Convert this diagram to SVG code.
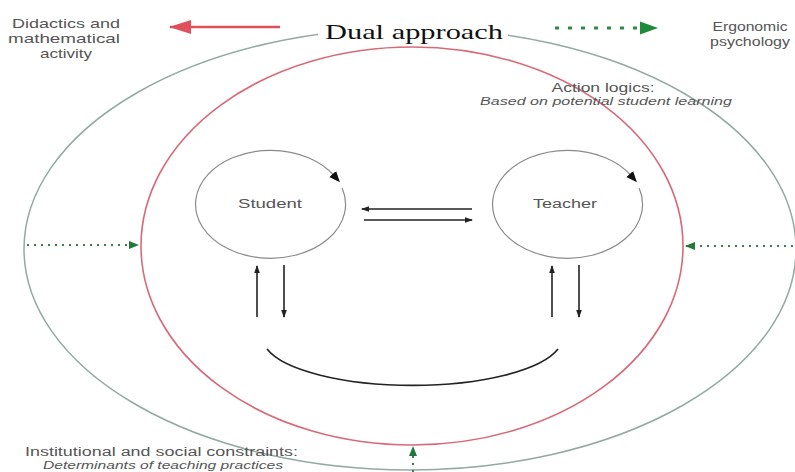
<svg xmlns="http://www.w3.org/2000/svg" width="795" height="472" viewBox="0 0 795 472">
<defs>
<marker id="blk" markerUnits="userSpaceOnUse" markerWidth="8" markerHeight="8" viewBox="0 0 8 8" refX="7" refY="4" orient="auto">
<path d="M0,1.2 L8,4 L0,6.8 Z" fill="#222"/>
</marker>
<marker id="blkc" markerUnits="userSpaceOnUse" markerWidth="12" markerHeight="10" viewBox="0 0 12 10" refX="2" refY="5" orient="auto">
<path d="M0,0.5 L11,5 L0,9.5 Z" fill="#111"/>
</marker>
<marker id="grn" markerUnits="userSpaceOnUse" markerWidth="10" markerHeight="10" viewBox="0 0 10 10" refX="9" refY="5" orient="auto">
<path d="M0,1 L10,5 L0,9 Z" fill="#1f7a3a"/>
</marker>
<marker id="grnL" markerUnits="userSpaceOnUse" markerWidth="18" markerHeight="14" viewBox="0 0 18 14" refX="17" refY="7" orient="auto">
<path d="M0,0.5 L18,7 L0,13.5 Z" fill="#1f8a3a"/>
</marker>
<marker id="red" markerUnits="userSpaceOnUse" markerWidth="22" markerHeight="16" viewBox="0 0 22 16" refX="21" refY="8" orient="auto">
<path d="M0,1 L22,8 L0,15 Z" fill="#e0505a"/>
</marker>
</defs>
<style>
.lbl{font-family:"Liberation Sans",Arial,sans-serif;fill:#555;}
.it{font-style:italic;}
.node{fill:none;stroke:#8a8a8a;stroke-width:1.2;}
.conn{stroke:#222;stroke-width:1.6;fill:none;}
.gdot{stroke:#3a7d50;stroke-width:2;fill:none;stroke-dasharray:2 5;}
</style>
<rect width="795" height="472" fill="#ffffff"/>

<g id="outer-context">
<ellipse cx="410" cy="249" rx="386" ry="221" fill="none" stroke="#93a9a3" stroke-width="1.5"/>
</g>
<g id="action-logics">
<ellipse cx="412" cy="246" rx="271" ry="199" fill="none" stroke="#d86a78" stroke-width="1.6"/>
<text class="lbl" x="603" y="92" font-size="13" text-anchor="middle" textLength="103" lengthAdjust="spacingAndGlyphs">Action logics:</text>
<text class="lbl it" x="606" y="105" font-size="11" text-anchor="middle" textLength="252" lengthAdjust="spacingAndGlyphs">Based on potential student learning</text>
</g>

<g id="title">
<rect x="318" y="18" width="190" height="26" fill="#ffffff"/>
<text x="325" y="39" font-family="'Liberation Serif','Times New Roman',serif" font-size="21" fill="#111" textLength="178" lengthAdjust="spacingAndGlyphs">Dual approach</text>
</g>

<g id="didactics">
<text class="lbl" x="66" y="28" font-size="13" text-anchor="middle" textLength="108" lengthAdjust="spacingAndGlyphs">Didactics and</text>
<text class="lbl" x="64" y="43" font-size="13" text-anchor="middle" textLength="112" lengthAdjust="spacingAndGlyphs">mathematical</text>
<text class="lbl" x="66" y="58" font-size="13" text-anchor="middle" textLength="52" lengthAdjust="spacingAndGlyphs">activity</text>
</g>

<g id="ergonomic">
<text class="lbl" x="750" y="31" font-size="13" text-anchor="middle" textLength="75" lengthAdjust="spacingAndGlyphs">Ergonomic</text>
<text class="lbl" x="750" y="46" font-size="13" text-anchor="middle" textLength="80" lengthAdjust="spacingAndGlyphs">psychology</text>
</g>

<g id="institutional">
<text class="lbl" x="25" y="456" font-size="12" textLength="273" lengthAdjust="spacingAndGlyphs">Institutional and social constraints:</text>
<text class="lbl it" x="43" y="469" font-size="10.5" textLength="240" lengthAdjust="spacingAndGlyphs">Determinants of teaching practices</text>
</g>

<g id="student">
<path class="node" d="M342.1,188.1 A75,54 0 1 1 334,175.5" marker-end="url(#blkc)"/>
<text class="lbl" x="270" y="208" font-size="12" fill="#444" text-anchor="middle" textLength="64" lengthAdjust="spacingAndGlyphs">Student</text>
</g>

<g id="teacher">
<path class="node" d="M639.1,188.1 A75,54 0 1 1 631,175.5" marker-end="url(#blkc)"/>
<text class="lbl" x="565" y="208" font-size="12" fill="#444" text-anchor="middle" textLength="64" lengthAdjust="spacingAndGlyphs">Teacher</text>
</g>

<g id="connectors">
<line x1="280" y1="27" x2="170" y2="27" stroke="#e0505a" stroke-width="2.5" marker-end="url(#red)"/>
<line x1="555" y1="28" x2="657" y2="28" stroke="#2e8b47" stroke-width="3" stroke-dasharray="4 9" marker-end="url(#grnL)"/>
<line class="gdot" x1="27" y1="245" x2="138" y2="245" marker-end="url(#grn)"/>
<line class="gdot" x1="793" y1="246" x2="686" y2="246" marker-end="url(#grn)"/>
<line class="gdot" x1="413" y1="472" x2="413" y2="447" marker-end="url(#grn)"/>
<line class="conn" x1="472" y1="209" x2="362" y2="209" marker-end="url(#blk)"/>
<line class="conn" x1="364" y1="220" x2="472" y2="220" marker-end="url(#blk)"/>
<line class="conn" x1="257" y1="317" x2="257" y2="266" marker-end="url(#blk)"/>
<line class="conn" x1="284" y1="265" x2="284" y2="317" marker-end="url(#blk)"/>
<line class="conn" x1="552" y1="317" x2="552" y2="266" marker-end="url(#blk)"/>
<line class="conn" x1="579" y1="265" x2="579" y2="317" marker-end="url(#blk)"/>
<path class="conn" d="M267,349 A150,48 0 0 0 558,349" stroke-width="1.8"/>
</g>
</svg>
